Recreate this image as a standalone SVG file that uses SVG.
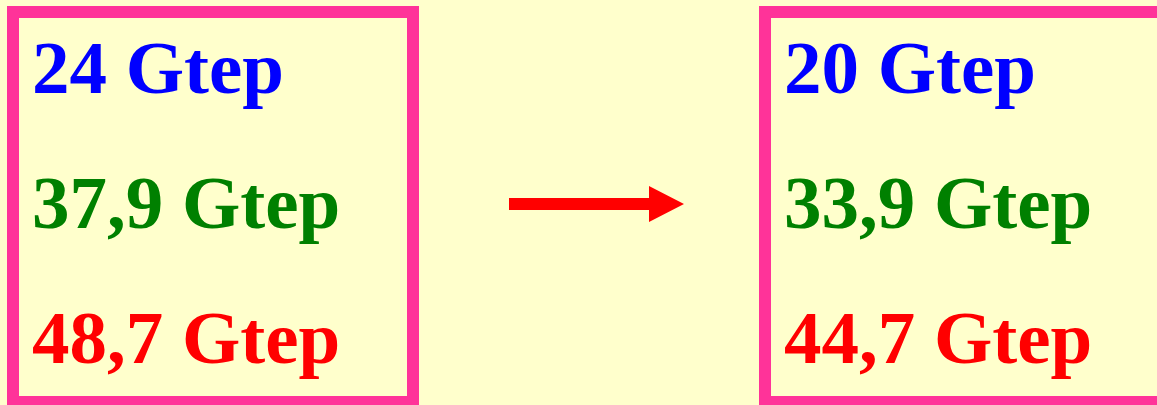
<svg xmlns="http://www.w3.org/2000/svg" width="1157" height="405" viewBox="0 0 1157 405">
<style>
.box{fill:none;stroke:#FF3399;stroke-width:12}
.t{font-family:"Liberation Serif","Times New Roman",serif;font-weight:bold;font-size:75px}
.b{fill:#0000FF}.g{fill:#008000}.r{fill:#FF0000}
</style>
<rect x="0" y="0" width="1157" height="405" fill="#FFFFCC"/>
<g id="left">
<rect class="box" x="13" y="12" width="400" height="390"/>
<text class="t b" x="32" y="93">24 Gtep</text>
<text class="t g" x="32" y="228">37,9 Gtep</text>
<text class="t r" x="32" y="363">48,7 Gtep</text>
</g>
<g id="right">
<rect class="box" x="765" y="12" width="420" height="390"/>
<text class="t b" x="784" y="93">20 Gtep</text>
<text class="t g" x="784" y="228">33,9 Gtep</text>
<text class="t r" x="784" y="363">44,7 Gtep</text>
</g>
<g id="connectors">
<polygon points="509,198 649,198 649,186 684,204 649,222 649,210 509,210" fill="#FF0000"/>
</g>
</svg>
